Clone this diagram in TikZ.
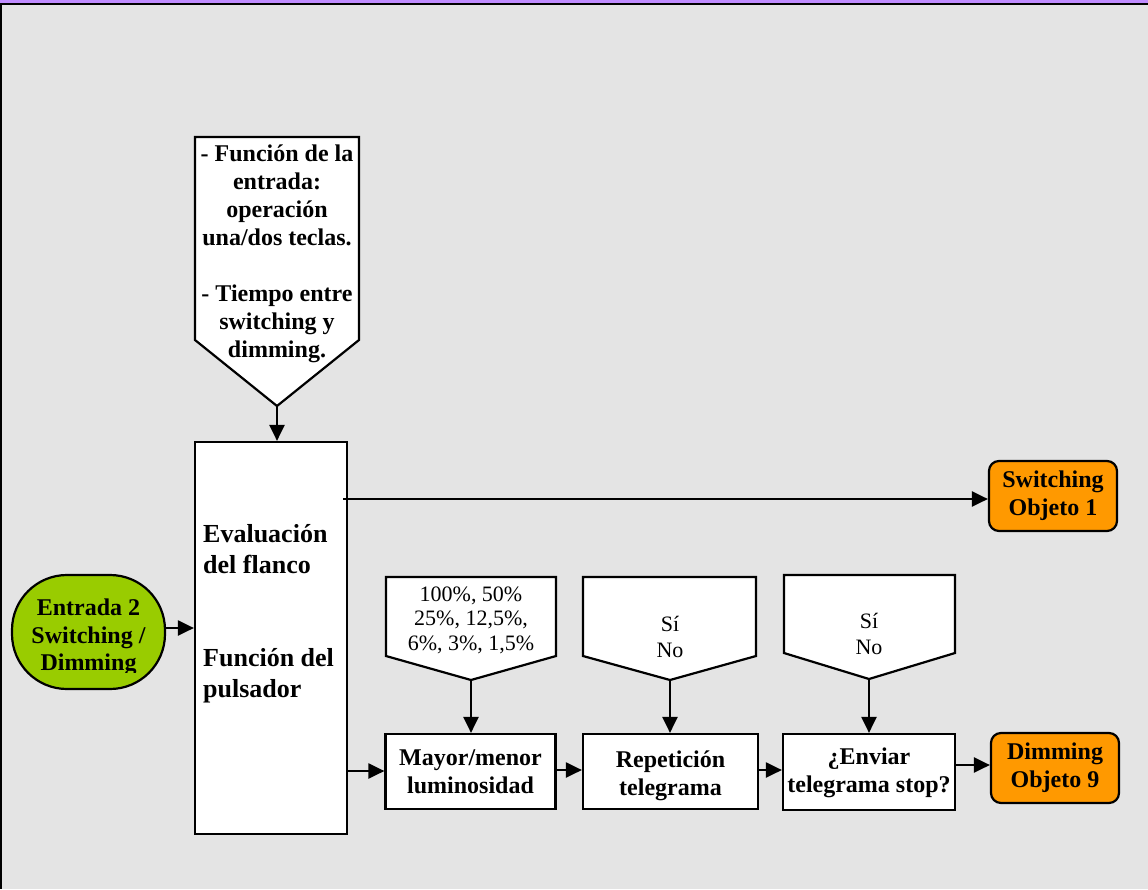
\documentclass[tikz,border=0pt]{standalone}
\usepackage{fontspec}
\setmainfont{Liberation Serif}
\usetikzlibrary{arrows.meta}
\definecolor{bg}{HTML}{E4E4E4}
\definecolor{lime}{HTML}{99CC00}
\definecolor{amber}{HTML}{FF9900}
\definecolor{lilac}{HTML}{C08CFF}
\begin{document}
\begin{tikzpicture}[x=1pt,y=-1pt,
  conn/.style={line width=2.2pt,-{Triangle[length=16pt,width=15pt]}},
  outline/.style={draw,line width=2.2pt,fill=white},
  box/.style={outline,inner sep=0pt,align=center,font=\fontsize{24}{28}\selectfont\bfseries},
  objbox/.style={box,fill=amber,rounded corners=10pt},
  ptext/.style={align=center,inner sep=0pt},
]
% canvas and frame
\fill[bg] (0,0) rectangle (1148,889);
\useasboundingbox (0,0) rectangle (1148,889);
\fill[lilac] (0,0) rectangle (1148,3);
\draw[line width=2.5pt] (0,4.2) -- (1148,4.2);
\draw[line width=2.5pt] (0.8,4) -- (0.8,889);

% parameter pentagon above the evaluation block
\draw[outline] (195,137) -- (359,137) -- (359,340) -- (277,406) -- (195,340) -- cycle;
\coordinate (p0) at (277,406);
\node[ptext,font=\fontsize{24}{28}\selectfont\bfseries] (p0t) at (277,254)
  {- Función de la\\entrada:\\operación\\una/dos teclas.\\[28pt]- Tiempo entre\\switching y\\dimming.};

% evaluation block
\node[outline,minimum width=152pt,minimum height=392pt,inner sep=0pt] (eval) at (271,638) {};
\node[anchor=west,align=left,inner sep=0pt,font=\fontsize{26}{31}\selectfont\bfseries] (evalt) at (203,613.5)
  {Evaluación\\del flanco\\[62pt]Función del\\pulsador};

% input
\node[draw,line width=2.2pt,fill=lime,rounded corners=55pt,minimum width=153pt,minimum height=114pt,
  inner sep=0pt] (inp) at (88.5,632) {};
\begin{scope}
  \clip (0,0) rectangle (1148,672);
  \node[ptext,font=\fontsize{24}{27.5}\selectfont\bfseries] (inpt) at (88.5,637.5)
    {Entrada 2\\Switching /\\Dimming};
\end{scope}

% outputs
\node[objbox,minimum width=128pt,minimum height=70pt] (sw) at (1053,496) {Switching\\Objeto 1};
\node[objbox,minimum width=128pt,minimum height=70pt] (dim) at (1055,768) {Dimming\\Objeto 9};

% processing chain
\node[box,minimum width=170pt,minimum height=75pt] (may) at (470.5,771.5) {Mayor/menor\\luminosidad};
\node[box,minimum width=175pt,minimum height=75pt] (rep) at (670.5,771.5) {};
\node[ptext,font=\fontsize{24}{28}\selectfont\bfseries] (rept) at (670.5,776) {Repetición\\telegrama};
\node[box,minimum width=172pt,minimum height=76pt] (env) at (869,772) {};
\node[ptext,font=\fontsize{24}{28}\selectfont\bfseries] (envt) at (869,773) {¿Enviar\\telegrama stop?};

% parameter pentagons of the chain
\draw[outline] (386,577) -- (556,577) -- (556,656) -- (471,680) -- (386,656) -- cycle;
\coordinate (p1) at (471,680);
\node[ptext,font=\fontsize{22}{24.5}\selectfont] (p1t) at (471,620) {100\%, 50\%\\25\%, 12,5\%,\\6\%, 3\%, 1,5\%};

\draw[outline] (583,577) -- (756,577) -- (756,656) -- (670,680) -- (583,656) -- cycle;
\coordinate (p2) at (670,680);
\node[ptext,font=\fontsize{22}{26}\selectfont] (p2t) at (670,636.5) {Sí\\No};

\draw[outline] (784,575) -- (955,575) -- (955,653) -- (869,679) -- (784,653) -- cycle;
\coordinate (p3) at (869,679);
\node[ptext,font=\fontsize{22}{26}\selectfont] (p3t) at (869,634) {Sí\\No};

% connectors
\draw[conn] (p0) -- (p0 |- eval.north);
\draw[conn] (inp.east |- 0,628) -- (eval.west |- 0,628);
\draw[conn] ([xshift=-5pt]eval.east |- 0,499) -- (sw.west |- 0,499);
\draw[conn] (eval.east |- 0,771) -- (may.west |- 0,771);
\draw[conn] (p1) -- (p1 |- may.north);
\draw[conn] (p2) -- (p2 |- rep.north);
\draw[conn] (p3) -- (p3 |- env.north);
\draw[conn] (may.east |- 0,770) -- (rep.west |- 0,770);
\draw[conn] (rep.east |- 0,770) -- (env.west |- 0,770);
\draw[conn] (env.east |- 0,765) -- (dim.west |- 0,765);
\end{tikzpicture}
\end{document}
